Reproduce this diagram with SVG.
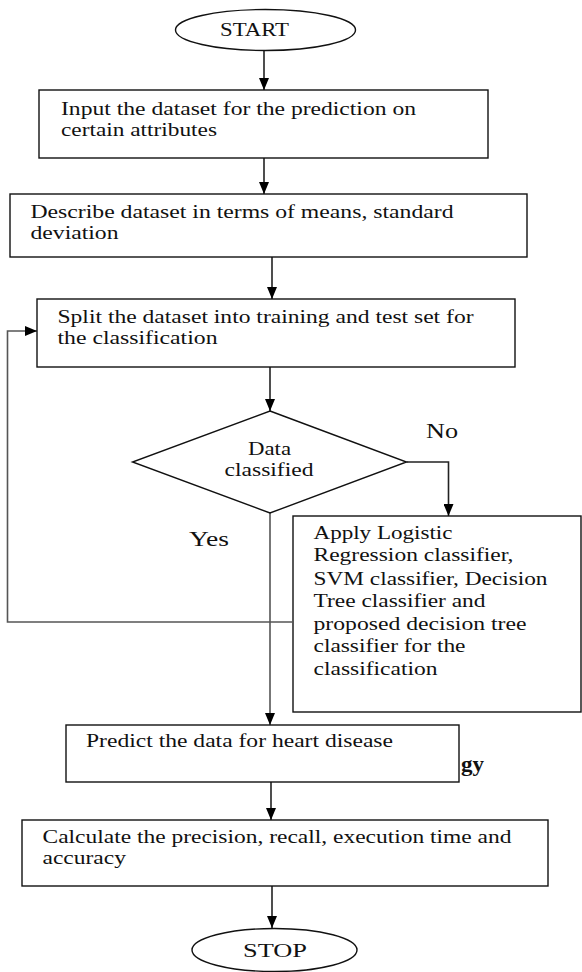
<svg xmlns="http://www.w3.org/2000/svg" width="582" height="972" viewBox="0 0 582 972">
<style>
.box{fill:#fff;stroke:#111;stroke-width:1.4}
.t{font-family:"Liberation Serif","Times New Roman",serif;font-size:18px;fill:#111}
.lbl{font-family:"Liberation Serif","Times New Roman",serif;font-size:21px;fill:#111}
.c{fill:none;stroke:#222;stroke-width:1.6}
.g{fill:none;stroke:#555;stroke-width:1.6}
</style>
<defs>
<marker id="ah" markerUnits="userSpaceOnUse" markerWidth="12" markerHeight="10" viewBox="0 0 12 10" refX="12" refY="5" orient="auto">
<path d="M0,0 L12,5 L0,10 z" fill="#000"/>
</marker>
</defs>
<rect width="582" height="972" fill="#fff"/>
<text class="lbl" x="461" y="771" font-size="22" font-weight="bold" textLength="23" lengthAdjust="spacingAndGlyphs">gy</text>
<g id="connectors">
<path class="c" d="M264,50 L264,90" marker-end="url(#ah)"/>
<path class="c" d="M264,158 L264,194" marker-end="url(#ah)"/>
<path class="c" d="M272,257 L272,299" marker-end="url(#ah)"/>
<path class="c" d="M270,367 L270,411" marker-end="url(#ah)"/>
<path class="c" d="M406.5,462 L448.5,462 L448.5,516" marker-end="url(#ah)"/>
<path class="g" d="M292,622 L7.5,622 L7.5,331 L37,331" marker-end="url(#ah)"/>
<path class="g" d="M270,513 L270,725" marker-end="url(#ah)"/>
<path class="c" d="M271,782 L271,820" marker-end="url(#ah)"/>
<path class="c" d="M272,886 L272,928" marker-end="url(#ah)"/>
</g>
<g id="start">
<ellipse class="box" cx="265.5" cy="30" rx="90" ry="20.5"/>
<text class="t" x="220" y="36" textLength="69" lengthAdjust="spacingAndGlyphs">START</text>
</g>
<g id="input">
<rect class="box" x="39" y="90" width="449" height="68"/>
<text class="t" x="61" y="115" textLength="355" lengthAdjust="spacingAndGlyphs">Input the dataset for the prediction on</text>
<text class="t" x="61" y="136" textLength="156" lengthAdjust="spacingAndGlyphs">certain attributes</text>
</g>
<g id="describe">
<rect class="box" x="10" y="194" width="517" height="63"/>
<text class="t" x="30.5" y="218" textLength="423" lengthAdjust="spacingAndGlyphs">Describe dataset in terms of means, standard</text>
<text class="t" x="30.5" y="239" textLength="88" lengthAdjust="spacingAndGlyphs">deviation</text>
</g>
<g id="split">
<rect class="box" x="37" y="299" width="478" height="68"/>
<text class="t" x="57.5" y="323" textLength="416" lengthAdjust="spacingAndGlyphs">Split the dataset into training and test set for</text>
<text class="t" x="57.5" y="344" textLength="160" lengthAdjust="spacingAndGlyphs">the classification</text>
</g>
<g id="decision">
<polygon class="box" points="270,411 406.5,462 270,513 132.5,462"/>
<text class="t" x="248" y="455" textLength="43" lengthAdjust="spacingAndGlyphs">Data</text>
<text class="t" x="224.5" y="476" textLength="89" lengthAdjust="spacingAndGlyphs">classified</text>
</g>
<g id="no-label">
<text class="lbl" x="426" y="438" textLength="32" lengthAdjust="spacingAndGlyphs">No</text>
</g>
<g id="yes-label">
<text class="lbl" x="189" y="546" textLength="40" lengthAdjust="spacingAndGlyphs">Yes</text>
</g>
<g id="apply">
<rect class="box" x="293" y="516" width="288" height="196"/>
<text class="t" x="313.5" y="539" textLength="139" lengthAdjust="spacingAndGlyphs">Apply Logistic</text>
<text class="t" x="313.5" y="561" textLength="200" lengthAdjust="spacingAndGlyphs">Regression classifier,</text>
<text class="t" x="313.5" y="585" textLength="234" lengthAdjust="spacingAndGlyphs">SVM classifier, Decision</text>
<text class="t" x="313.5" y="607" textLength="172" lengthAdjust="spacingAndGlyphs">Tree classifier and</text>
<text class="t" x="313.5" y="630" textLength="213" lengthAdjust="spacingAndGlyphs">proposed decision tree</text>
<text class="t" x="313.5" y="652" textLength="152" lengthAdjust="spacingAndGlyphs">classifier for the</text>
<text class="t" x="313.5" y="675" textLength="124" lengthAdjust="spacingAndGlyphs">classification</text>
</g>
<g id="predict">
<rect class="box" x="66" y="725" width="393" height="57"/>
<text class="t" x="86" y="747" textLength="307" lengthAdjust="spacingAndGlyphs">Predict the data for heart disease</text>
</g>
<g id="calculate">
<rect class="box" x="22" y="820" width="526" height="66"/>
<text class="t" x="42.5" y="843" textLength="469" lengthAdjust="spacingAndGlyphs">Calculate the precision, recall, execution time and</text>
<text class="t" x="42.5" y="864" textLength="83.5" lengthAdjust="spacingAndGlyphs">accuracy</text>
</g>
<g id="stop">
<ellipse class="box" cx="274.5" cy="950" rx="82.5" ry="21.5"/>
<text class="t" x="243" y="957" textLength="64" lengthAdjust="spacingAndGlyphs">STOP</text>
</g>
</svg>
